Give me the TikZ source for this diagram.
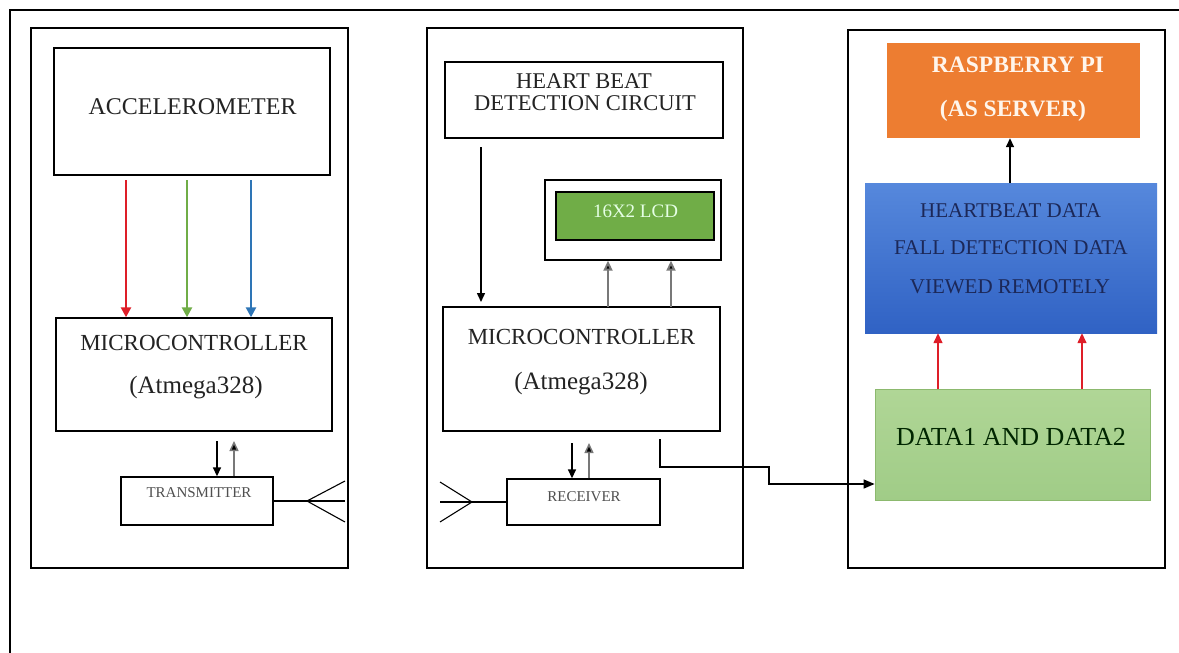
\documentclass[tikz,border=0pt]{standalone}
\usepackage{fontspec}
\setmainfont{Liberation Serif}
\usetikzlibrary{arrows.meta}
\definecolor{accred}{RGB}{222,30,40}
\definecolor{accgreen}{RGB}{112,173,71}
\definecolor{accblue}{RGB}{46,117,182}
\definecolor{rpiorange}{RGB}{237,125,49}
\definecolor{bluetop}{RGB}{86,136,220}
\definecolor{bluebot}{RGB}{48,98,196}
\definecolor{navytxt}{RGB}{28,40,88}
\definecolor{greentop}{RGB}{176,214,150}
\definecolor{greenbot}{RGB}{160,204,135}
\definecolor{greenedge}{RGB}{140,185,110}
\definecolor{lcdgreen}{RGB}{112,173,71}
\definecolor{txtdark}{RGB}{35,35,35}
\definecolor{greytxt}{RGB}{80,80,80}
\definecolor{greyline}{RGB}{120,120,120}
\tikzset{
  panel/.style={draw=black, line width=1.5pt, inner sep=0pt},
  box/.style={draw=black, line width=1.4pt, inner sep=0pt, fill=white},
  lbl/.style={inner sep=0pt, text=txtdark},
  tipa/.style={-{Triangle[length=10pt,width=10pt]}},
  tipb/.style={-{Triangle[length=9pt,width=8pt]}},
  tipg/.style={-{Triangle[length=10pt,width=9pt,fill=black]}},
  wire/.style={line width=1.5pt},
  cwire/.style={line width=2.4pt}
}
\begin{document}
\begin{tikzpicture}[x=1pt,y=-1pt]
\useasboundingbox (0,0) rectangle (1179,653);
\fill[white] (0,0) rectangle (1179,653);
% outer frame (open at right and bottom)
\coordinate (o1) at (10,653);
\coordinate (o2) at (10,10);
\coordinate (o3) at (1179,10);
\draw[line width=1.4pt] (o1) -- (o2) -- (o3);

% ---------- panel 1
\node[panel, minimum width=317pt, minimum height=540pt] (p1) at (189.5,298) {};
\node[box, minimum width=276pt, minimum height=127pt] (acc) at (192,111.5) {};
\node[lbl, font=\fontsize{24}{26}\selectfont] (acct) at (192.5,106.5) {ACCELEROMETER};
\node[box, minimum width=276pt, minimum height=113pt] (mc1) at (194,374.5) {};
\node[lbl, font=\fontsize{23}{26}\selectfont] (mc1a) at (194,343) {MICROCONTROLLER};
\node[lbl, font=\fontsize{25}{28}\selectfont] (mc1b) at (196,388) {(Atmega328)};
\node[box, minimum width=152pt, minimum height=48pt] (tx) at (197,501) {};
\node[lbl, text=greytxt, font=\fontsize{15}{17}\selectfont] (txt) at (199,493) {TRANSMITTER};

\coordinate (r1) at (126,180);
\coordinate (g1) at (187,180);
\coordinate (b1) at (251,180);
\draw[cwire, tipa, accred] (r1) -- (r1 |- mc1.north);
\draw[cwire, tipa, accgreen] (g1) -- (g1 |- mc1.north);
\draw[cwire, tipa, accblue] (b1) -- (b1 |- mc1.north);

\coordinate (t1) at (217,441);
\coordinate (t2) at (234,441);
\draw[wire, tipb] (t1) -- (t1 |- tx.north);
\draw[wire, greyline, tipg] (t2 |- tx.north) -- (t2);

\coordinate (ta0) at (345,501);
\coordinate (ta1) at (307,501);
\coordinate (ta2) at (345,481);
\coordinate (ta3) at (345,522);
\draw[line width=1.1pt] (tx.east) -- (ta0);
\draw[line width=1.1pt] (ta2) -- (ta1) -- (ta3);

% ---------- panel 2
\node[panel, minimum width=316pt, minimum height=540pt] (p2) at (585,298) {};
\node[box, minimum width=278pt, minimum height=76pt] (hb) at (584,100) {};
\node[lbl, font=\fontsize{22.5}{23}\selectfont] (hbt1) at (584,81) {HEART BEAT};
\node[lbl, font=\fontsize{22.5}{23}\selectfont] (hbt2) at (585,103.5) {DETECTION CIRCUIT};
\coordinate (h1) at (481,147);
\coordinate (h2) at (481,302);
\draw[wire, tipb] (h1) -- (h2);
\node[box, minimum width=176pt, minimum height=80pt] (lcdo) at (633,220) {};
\node[draw=black, line width=2.8pt, fill=lcdgreen, minimum width=158pt, minimum height=48pt, inner sep=0pt] (lcd) at (635,216) {};
\node[lbl, text=white!90!green, font=\fontsize{19}{21}\selectfont] (lcdt) at (635.5,211) {16X2 LCD};
\node[box, minimum width=277pt, minimum height=124pt] (mc2) at (581.5,369) {};
\node[lbl, font=\fontsize{23}{26}\selectfont] (mc2a) at (581.5,337) {MICROCONTROLLER};
\node[lbl, font=\fontsize{25}{28}\selectfont] (mc2b) at (581,384) {(Atmega328)};
\coordinate (l1) at (608,307);
\coordinate (l2) at (671,307);
\draw[line width=2pt, greyline, tipg] (l1) -- (l1 |- lcdo.south);
\draw[line width=2pt, greyline, tipg] (l2) -- (l2 |- lcdo.south);

\node[box, minimum width=153pt, minimum height=46pt] (rx) at (583.5,502) {};
\node[lbl, text=greytxt, font=\fontsize{15}{17}\selectfont] (rxt) at (584,497) {RECEIVER};
\coordinate (s1) at (572,443);
\coordinate (s2) at (589,443);
\draw[wire, tipb] (s1) -- (s1 |- rx.north);
\draw[wire, greyline, tipg] (s2 |- rx.north) -- (s2);
\coordinate (ra0) at (440,502);
\coordinate (ra1) at (472,502);
\coordinate (ra2) at (440,482);
\coordinate (ra3) at (440,522);
\draw[line width=1.1pt] (rx.west) -- (ra0);
\draw[line width=1.1pt] (ra2) -- (ra1) -- (ra3);

% ---------- panel 3
\node[panel, minimum width=317pt, minimum height=538pt] (p3) at (1006.5,299) {};
\node[fill=rpiorange, minimum width=253pt, minimum height=95pt, inner sep=0pt] (rpi) at (1013.5,90.5) {};
\node[lbl, text=white!92!orange, font=\bfseries\fontsize{23.5}{26}\selectfont] (rpia) at (1018,65) {RASPBERRY PI};
\node[lbl, text=white!92!orange, font=\bfseries\fontsize{23.5}{26}\selectfont] (rpib) at (1013,111) {(AS SERVER)};
\node[top color=bluetop, bottom color=bluebot, minimum width=292pt, minimum height=150pt, inner sep=0pt] (blue) at (1011,258) {};
\node[lbl, text=navytxt, font=\fontsize{21}{23}\selectfont] (bl1) at (1010.5,211) {HEARTBEAT DATA};
\node[lbl, text=navytxt, font=\fontsize{21}{23}\selectfont] (bl2) at (1011,248) {FALL DETECTION DATA};
\node[lbl, text=navytxt, font=\fontsize{21}{23}\selectfont] (bl3) at (1010,287) {VIEWED REMOTELY};
\coordinate (u1) at (1010,183);
\draw[line width=1.5pt, tipb] (u1) -- (u1 |- rpi.south);
\node[draw=greenedge, line width=0.8pt, top color=greentop, bottom color=greenbot, minimum width=275pt, minimum height=111pt, inner sep=0pt] (grn) at (1012.5,445) {};
\node[lbl, text=black!85!green, font=\fontsize{26}{28}\selectfont] (grnt) at (1011,437) {DATA1 AND DATA2};
\coordinate (e1) at (938,389);
\coordinate (e2) at (1082,389);
\draw[line width=1.4pt, accred, -{Triangle[length=10pt,width=9pt]}] (e1) -- (e1 |- blue.south);
\draw[line width=1.4pt, accred, -{Triangle[length=10pt,width=9pt]}] (e2) -- (e2 |- blue.south);

% MC2 -> data connector
\coordinate (c0) at (660,439);
\coordinate (c1) at (769,467);
\coordinate (c2) at ([yshift=-39pt]grn.west);
\draw[wire, -{Triangle[length=11pt,width=9pt]}] (c0) |- (c1) |- (c2);
\end{tikzpicture}
\end{document}
